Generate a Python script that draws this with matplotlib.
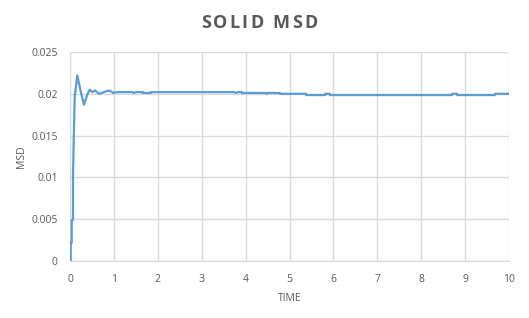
import matplotlib
matplotlib.use("Agg")
import matplotlib.pyplot as plt

time = [0.0, 0.016, 0.016, 0.039, 0.039, 0.068, 0.068, 0.091, 0.107, 0.166, 0.244, 0.319,
        0.394, 0.449, 0.508, 0.569, 0.66, 0.77, 0.89, 0.96, 0.98, 1.07, 1.42, 1.46, 1.50,
        1.66, 1.66, 1.84, 1.84, 3.74, 3.78, 3.82, 3.91, 3.91, 4.46, 4.48, 4.50, 4.78, 4.78,
        5.38, 5.38, 5.81, 5.81, 5.92, 5.92, 8.70, 8.70, 8.82, 8.82, 9.68, 9.68, 10.0]
msd = [0.0, 0.0, 0.0022, 0.0022, 0.0049, 0.0049, 0.0103, 0.0160, 0.0196, 0.0222, 0.0203, 0.0187,
       0.0199, 0.0205, 0.0202, 0.0204, 0.0200, 0.0202, 0.0204, 0.0202, 0.0201, 0.0202, 0.0202, 0.0201, 0.0202,
       0.0202, 0.0201, 0.0201, 0.0202, 0.0202, 0.0201, 0.0202, 0.0202, 0.0201, 0.0201, 0.0200, 0.0201, 0.0201, 0.0200,
       0.0200, 0.01985, 0.01985, 0.0200, 0.0200, 0.01985, 0.01985, 0.0200, 0.0200, 0.01985, 0.01985, 0.0200, 0.0200]

x_ticks = [0, 1, 2, 3, 4, 5, 6, 7, 8, 9, 10]
y_ticks = [0, 0.005, 0.01, 0.015, 0.02, 0.025]
y_tick_labels = ["0", "0.005", "0.01", "0.015", "0.02", "0.025"]
title = "SOLID MSD"

plt.rcParams['font.family'] = ['Open Sans', 'DejaVu Sans']
grey = "#595959"
grid = "#d9d9d9"

fig = plt.figure(figsize=(5.29, 3.18), dpi=100)
ax = fig.add_axes([70/529, 1-261/318, 439/529, 209/318])
ax.plot(time, msd, color="#5b9bd5", lw=1.6, solid_joinstyle="round")
ax.set_xlim(0, 10)
ax.set_ylim(0, 0.025)
ax.set_xticks(x_ticks)
ax.set_xticklabels([str(t) for t in x_ticks])
ax.set_yticks(y_ticks)
ax.set_yticklabels(y_tick_labels)
ax.grid(True, color=grid, lw=1)
ax.set_axisbelow(True)
for s in ["top", "right", "left"]:
    ax.spines[s].set_visible(False)
ax.spines["bottom"].set_color(grid)
ax.tick_params(length=0, colors=grey, labelsize=7.5)
ax.tick_params(axis="y", pad=9)
ax.tick_params(axis="x", pad=9)
ax.set_xlabel("TIME", color=grey, fontsize=7.5, labelpad=6)
ax.set_ylabel("MSD", color=grey, fontsize=7.5, labelpad=3)

# letter-spaced title
renderer = fig.canvas.get_renderer()
spacing = 2.2  # px between letters
chars = []
widths = []
for ch in title:
    t = fig.text(0, 1-23/318, ch, ha="left", va="center", fontsize=13,
                 fontweight="bold", color=grey)
    chars.append(t)
    if ch == " ":
        widths.append(5.0)
    else:
        widths.append(t.get_window_extent(renderer).width)
total = sum(widths) + spacing * (len(title) - 1)
x = 259 - total / 2
for t, w in zip(chars, widths):
    t.set_x(x / 529)
    x += w + spacing

fig.savefig("out.png", dpi=100)
